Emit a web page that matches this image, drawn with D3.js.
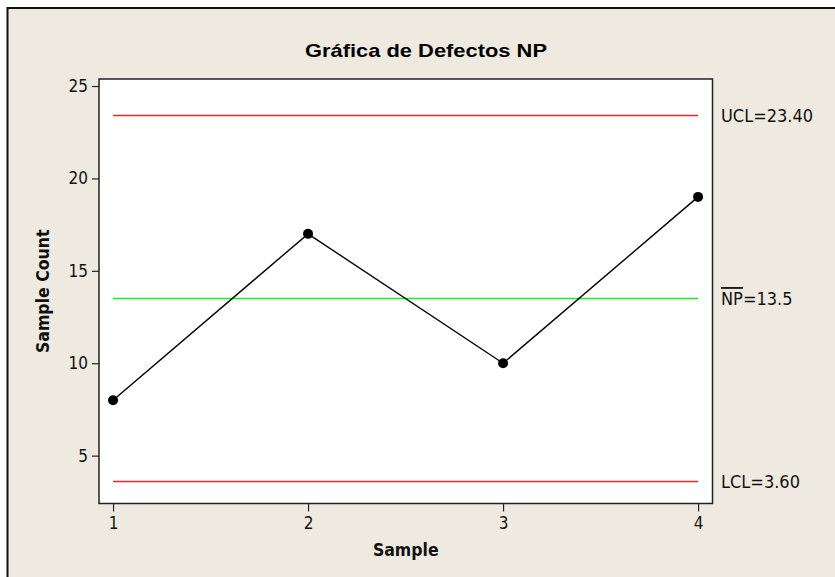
<!DOCTYPE html>
<html>
<head>
<meta charset="utf-8">
<script src="https://cdn.jsdelivr.net/npm/d3@7"></script>
<style>
  html, body { margin: 0; padding: 0; background: #ffffff; }
  svg { display: block; }
</style>
</head>
<body>
<svg id="chart" width="835" height="577"></svg>
<script>
// ---- data ----
const samples = [1, 2, 3, 4];
const counts = [8, 17, 10, 19];
const yTicks = [5, 10, 15, 20, 25];
const xTicks = [1, 2, 3, 4];
const limitValues = [23.40, 13.5, 3.60];
const limitNames = ["UCL=23.40", "NP=13.5", "LCL=3.60"];
const limitColors = ["#e8262b", "#19ef19", "#e8262b"];
const titleText = "Gráfica de Defectos NP";
const xLabel = "Sample";
const yLabel = "Sample Count";

const FONT = "'DejaVu Sans Condensed', 'DejaVu Sans', sans-serif";
const svg = d3.select("#chart");
const W = 835, H = 577;

// outer frame
svg.append("rect").attr("x", 7.5).attr("y", 8).attr("width", W + 20).attr("height", H + 20)
  .attr("fill", "#eeeae0").attr("stroke", "#111").attr("stroke-width", 2);

const plot = {left: 99, right: 712.5, top: 79, bottom: 503.5};
const x = d3.scaleLinear().domain([0.928, 4.074]).range([plot.left, plot.right]);
const y = d3.scaleLinear().domain([2.41, 25.38]).range([plot.bottom, plot.top]);

// plot area
svg.append("rect").attr("x", plot.left).attr("y", plot.top)
  .attr("width", plot.right - plot.left).attr("height", plot.bottom - plot.top)
  .attr("fill", "#ffffff").attr("stroke", "#222").attr("stroke-width", 1.5);

function styleAxis(g) {
  g.select(".domain").remove();
  g.selectAll(".tick line").attr("stroke", "#222").attr("stroke-width", 1.2);
  g.selectAll(".tick text").attr("font-family", FONT).attr("font-stretch", "condensed")
    .attr("font-size", 17).attr("fill", "#111");
}

// axes
const yAxis = d3.axisLeft(y).tickValues(yTicks).tickSize(7).tickPadding(4).tickFormat(d3.format("d"));
const gy = svg.append("g").attr("transform", `translate(${plot.left},0)`).call(yAxis);
gy.attr("font-size", 17).attr("font-family", FONT);
styleAxis(gy);

const xAxis = d3.axisBottom(x).tickValues(xTicks).tickSize(8).tickPadding(5).tickFormat(d3.format("d"));
const gx = svg.append("g").attr("transform", `translate(0,${plot.bottom})`).call(xAxis);
gx.attr("font-size", 17).attr("font-family", FONT);
styleAxis(gx);

// control limit lines
svg.selectAll("line.limit").data(limitValues).join("line")
  .attr("class", "limit")
  .attr("x1", x(samples[0])).attr("x2", x(samples[samples.length - 1]))
  .attr("y1", d => y(d)).attr("y2", d => y(d))
  .attr("stroke", (d, i) => limitColors[i]).attr("stroke-width", 1.5);

// limit labels
const labels = svg.selectAll("text.limlab").data(limitValues).join("text")
  .attr("class", "limlab")
  .attr("x", 721).attr("y", d => y(d) + 6.5)
  .attr("font-family", FONT)
  .attr("font-stretch", "condensed")
  .attr("font-size", 18).attr("fill", "#111");
labels.each(function(d, i) {
  const t = d3.select(this);
  const name = limitNames[i];
  if (name.startsWith("NP")) {
    t.append("tspan").attr("text-decoration", "overline").text("NP");
    t.append("tspan").text(name.slice(2));
  } else {
    t.text(name);
  }
});

// data line + points
const pts = samples.map((s, i) => [s, counts[i]]);
svg.append("path").datum(pts)
  .attr("d", d3.line().x(d => x(d[0])).y(d => y(d[1])))
  .attr("fill", "none").attr("stroke", "#000").attr("stroke-width", 1.4);
svg.selectAll("circle.pt").data(pts).join("circle")
  .attr("class", "pt").attr("cx", d => x(d[0])).attr("cy", d => y(d[1])).attr("r", 5)
  .attr("fill", "#000");

// title
svg.append("text").attr("x", 426).attr("y", 57).attr("text-anchor", "middle")
  .attr("font-family", "'Liberation Sans', Arial, sans-serif").attr("font-weight", "bold")
  .attr("font-size", 19).attr("textLength", 242).attr("lengthAdjust", "spacingAndGlyphs")
  .attr("fill", "#000").text(titleText);

// axis labels
svg.append("text").attr("x", (plot.left + plot.right) / 2).attr("y", 556).attr("text-anchor", "middle")
  .attr("font-family", FONT).attr("font-stretch", "condensed")
  .attr("font-weight", "bold").attr("font-size", 17.5).attr("fill", "#111").text(xLabel);
svg.append("text").attr("transform", `translate(49,${(plot.top + plot.bottom) / 2}) rotate(-90)`)
  .attr("text-anchor", "middle")
  .attr("font-family", FONT).attr("font-stretch", "condensed")
  .attr("font-weight", "bold").attr("font-size", 17.5).attr("fill", "#111").text(yLabel);
</script>
</body>
</html>
